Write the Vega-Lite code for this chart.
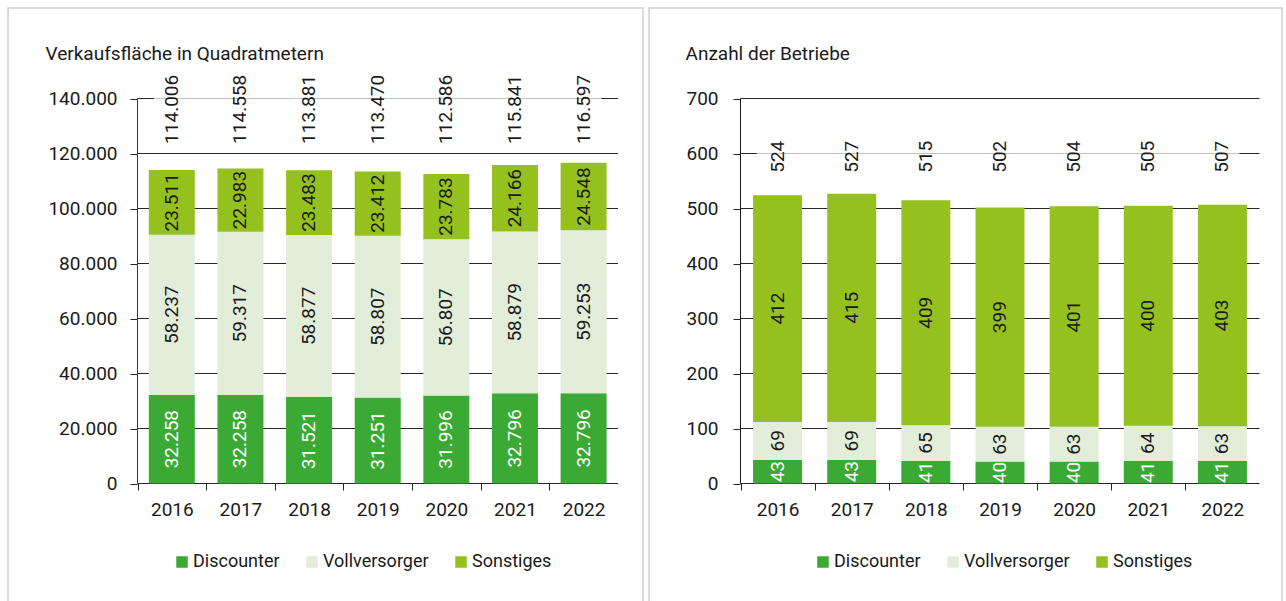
{
  "$schema": "https://vega.github.io/schema/vega-lite/v6.json",
  "padding": {"left": 7, "top": 7, "right": 0, "bottom": 0},
  "background": "white",
  "bounds": "flush",
  "spacing": 6,
  "config": {
    "font": "Roboto, sans-serif",
    "locale": {"number": {"decimal": ",", "thousands": ".", "grouping": [3], "currency": ["", " €"]}},
    "view": {"stroke": "#d0d0d0", "strokeWidth": 1.5},
    "axis": {"labelFontSize": 19, "labelColor": "#1a1a1a", "titleFontSize": 19, "titleColor": "#1a1a1a", "titleFontWeight": "normal", "grid": false, "domain": false, "tickColor": "#262626", "labelFlush": false, "labelOverlap": false},
    "text": {"fontSize": 19, "fill": "#1a1a1a"}
  },
  "resolve": {"scale": {"color": "independent"}},
  "datasets": {
    "areaSeg": [
      {"year": 2016, "cat": "Discounter", "k": 1, "v": 32258},
      {"year": 2016, "cat": "Vollversorger", "k": 2, "v": 58237},
      {"year": 2016, "cat": "Sonstiges", "k": 3, "v": 23511},
      {"year": 2017, "cat": "Discounter", "k": 1, "v": 32258},
      {"year": 2017, "cat": "Vollversorger", "k": 2, "v": 59317},
      {"year": 2017, "cat": "Sonstiges", "k": 3, "v": 22983},
      {"year": 2018, "cat": "Discounter", "k": 1, "v": 31521},
      {"year": 2018, "cat": "Vollversorger", "k": 2, "v": 58877},
      {"year": 2018, "cat": "Sonstiges", "k": 3, "v": 23483},
      {"year": 2019, "cat": "Discounter", "k": 1, "v": 31251},
      {"year": 2019, "cat": "Vollversorger", "k": 2, "v": 58807},
      {"year": 2019, "cat": "Sonstiges", "k": 3, "v": 23412},
      {"year": 2020, "cat": "Discounter", "k": 1, "v": 31996},
      {"year": 2020, "cat": "Vollversorger", "k": 2, "v": 56807},
      {"year": 2020, "cat": "Sonstiges", "k": 3, "v": 23783},
      {"year": 2021, "cat": "Discounter", "k": 1, "v": 32796},
      {"year": 2021, "cat": "Vollversorger", "k": 2, "v": 58879},
      {"year": 2021, "cat": "Sonstiges", "k": 3, "v": 24166},
      {"year": 2022, "cat": "Discounter", "k": 1, "v": 32796},
      {"year": 2022, "cat": "Vollversorger", "k": 2, "v": 59253},
      {"year": 2022, "cat": "Sonstiges", "k": 3, "v": 24548}
    ],
    "areaTot": [
      {"year": 2016, "t": 114006},
      {"year": 2017, "t": 114558},
      {"year": 2018, "t": 113881},
      {"year": 2019, "t": 113470},
      {"year": 2020, "t": 112586},
      {"year": 2021, "t": 115841},
      {"year": 2022, "t": 116597}
    ],
    "areaGrid": [
      {"g": 0}, {"g": 20000}, {"g": 40000}, {"g": 60000}, {"g": 80000}, {"g": 100000}, {"g": 120000}, {"g": 140000}
    ],
    "cntSeg": [
      {"year": 2016, "cat": "Discounter", "k": 1, "v": 43},
      {"year": 2016, "cat": "Vollversorger", "k": 2, "v": 69},
      {"year": 2016, "cat": "Sonstiges", "k": 3, "v": 412},
      {"year": 2017, "cat": "Discounter", "k": 1, "v": 43},
      {"year": 2017, "cat": "Vollversorger", "k": 2, "v": 69},
      {"year": 2017, "cat": "Sonstiges", "k": 3, "v": 415},
      {"year": 2018, "cat": "Discounter", "k": 1, "v": 41},
      {"year": 2018, "cat": "Vollversorger", "k": 2, "v": 65},
      {"year": 2018, "cat": "Sonstiges", "k": 3, "v": 409},
      {"year": 2019, "cat": "Discounter", "k": 1, "v": 40},
      {"year": 2019, "cat": "Vollversorger", "k": 2, "v": 63},
      {"year": 2019, "cat": "Sonstiges", "k": 3, "v": 399},
      {"year": 2020, "cat": "Discounter", "k": 1, "v": 40},
      {"year": 2020, "cat": "Vollversorger", "k": 2, "v": 63},
      {"year": 2020, "cat": "Sonstiges", "k": 3, "v": 401},
      {"year": 2021, "cat": "Discounter", "k": 1, "v": 41},
      {"year": 2021, "cat": "Vollversorger", "k": 2, "v": 64},
      {"year": 2021, "cat": "Sonstiges", "k": 3, "v": 400},
      {"year": 2022, "cat": "Discounter", "k": 1, "v": 41},
      {"year": 2022, "cat": "Vollversorger", "k": 2, "v": 63},
      {"year": 2022, "cat": "Sonstiges", "k": 3, "v": 403}
    ],
    "cntTot": [
      {"year": 2016, "t": 524},
      {"year": 2017, "t": 527},
      {"year": 2018, "t": 515},
      {"year": 2019, "t": 502},
      {"year": 2020, "t": 504},
      {"year": 2021, "t": 505},
      {"year": 2022, "t": 507}
    ],
    "cntGrid": [
      {"g": 0}, {"g": 100}, {"g": 200}, {"g": 300}, {"g": 400}, {"g": 500}, {"g": 600}, {"g": 700}
    ],
    "one": [{}]
  },
  "hconcat": [
    {
      "width": 635,
      "height": 595,
      "resolve": {"axis": {"x": "independent", "y": "independent"}},
      "layer": [
        {
          "data": {"name": "areaGrid"},
          "mark": {"type": "rule", "color": "#262626", "strokeWidth": 1},
          "encoding": {
            "x": {"datum": 2015.5, "type": "quantitative", "scale": {"domain": [2013.6131, 2022.8656], "nice": false, "zero": false, "padding": 0},
                  "axis": {"orient": "bottom", "values": [2016, 2017, 2018, 2019, 2020, 2021, 2022, 2023], "format": "d", "labelExpr": "datum.value > 2022 ? '' : datum.label", "ticks": true, "tickSize": 7, "tickOffset": -34.31, "labelOffset": 34.31, "labelPadding": 10, "domain": false, "offset": -120, "title": null}},
            "x2": {"datum": 2022.5},
            "y": {"field": "g", "type": "quantitative", "scale": {"domain": [-43454.5, 172909.1], "nice": false, "zero": false, "padding": 0},
                  "axis": {"orient": "left", "values": [0, 20000, 40000, 60000, 80000, 100000, 120000, 140000], "format": ",d", "labels": true, "ticks": true, "tickSize": 7, "labelPadding": 13, "domain": false, "offset": -129,
                           "title": "Verkaufsfläche in Quadratmetern", "titleAngle": 0, "titleAlign": "left", "titleBaseline": "alphabetic", "titleX": -92, "titleY": 51}}
          }
        },
        {
          "data": {"name": "areaSeg"},
          "mark": {"type": "bar", "orient": "vertical", "size": 46},
          "encoding": {
            "x": {"field": "year", "type": "quantitative", "scale": {"domain": [2013.6131, 2022.8656], "nice": false, "zero": false, "padding": 0}, "axis": null},
            "y": {"field": "v", "type": "quantitative", "stack": "zero", "scale": {"domain": [-43454.5, 172909.1], "nice": false, "zero": false, "padding": 0}, "axis": null},
            "color": {"field": "cat", "type": "nominal", "scale": {"domain": ["Discounter", "Vollversorger", "Sonstiges"], "range": ["#3BAA35", "#E2EEDA", "#95C11F"]},
                      "legend": {"orient": "none", "legendX": 165, "legendY": 545, "direction": "horizontal", "title": null, "symbolType": "square", "symbolSize": 132, "symbolStrokeWidth": 0, "labelFontSize": 18, "labelColor": "#1a1a1a", "labelOffset": 2, "columnPadding": 23, "padding": 0, "labelLimit": 300}},
            "order": {"field": "k", "type": "quantitative"}
          }
        },
        {
          "data": {"name": "one"},
          "mark": {"type": "rect", "fill": "white", "opacity": 0.72},
          "encoding": {
            "x": {"datum": 2015.74, "type": "quantitative", "scale": {"domain": [2013.6131, 2022.8656], "nice": false, "zero": false, "padding": 0}, "axis": null},
            "x2": {"datum": 2022.26},
            "y": {"datum": 124000, "type": "quantitative", "scale": {"domain": [-43454.5, 172909.1], "nice": false, "zero": false, "padding": 0}, "axis": null},
            "y2": {"datum": 148000}
          }
        },
        {
          "data": {"name": "areaSeg"},
          "mark": {"type": "text", "angle": -90, "align": "center", "baseline": "middle", "fontSize": 19},
          "encoding": {
            "x": {"field": "year", "type": "quantitative", "scale": {"domain": [2013.6131, 2022.8656], "nice": false, "zero": false, "padding": 0}, "axis": null},
            "y": {"field": "v", "type": "quantitative", "stack": "zero", "bandPosition": 0.5, "scale": {"domain": [-43454.5, 172909.1], "nice": false, "zero": false, "padding": 0}, "axis": null},
            "detail": {"field": "cat", "type": "nominal"},
            "order": {"field": "k", "type": "quantitative"},
            "text": {"field": "v", "type": "quantitative", "format": ",d"},
            "color": {"condition": {"test": "datum.cat === 'Discounter'", "value": "#ffffff"}, "value": "#1a1a1a"}
          }
        },
        {
          "data": {"name": "areaTot"},
          "mark": {"type": "text", "angle": -90, "align": "left", "baseline": "middle", "fontSize": 19, "color": "#1a1a1a"},
          "encoding": {
            "x": {"field": "year", "type": "quantitative", "scale": {"domain": [2013.6131, 2022.8656], "nice": false, "zero": false, "padding": 0}, "axis": null},
            "y": {"datum": 123500, "type": "quantitative", "scale": {"domain": [-43454.5, 172909.1], "nice": false, "zero": false, "padding": 0}, "axis": null},
            "text": {"field": "t", "type": "quantitative", "format": ",d"}
          }
        },
        {
          "data": {"name": "one"},
          "mark": {"type": "rule", "color": "#3a3a3a", "strokeWidth": 1},
          "encoding": {
            "x": {"datum": 2015.5, "type": "quantitative", "scale": {"domain": [2013.6131, 2022.8656], "nice": false, "zero": false, "padding": 0}, "axis": null},
            "y": {"datum": 0, "type": "quantitative", "scale": {"domain": [-43454.5, 172909.1], "nice": false, "zero": false, "padding": 0}, "axis": null},
            "y2": {"datum": 140000}
          }
        }
      ]
    },
    {
      "width": 633,
      "height": 595,
      "resolve": {"axis": {"x": "independent", "y": "independent"}},
      "layer": [
        {
          "data": {"name": "cntGrid"},
          "mark": {"type": "rule", "color": "#262626", "strokeWidth": 1},
          "encoding": {
            "x": {"datum": 2015.5, "type": "quantitative", "scale": {"domain": [2014.2659, 2022.8035], "nice": false, "zero": false, "padding": 0},
                  "axis": {"orient": "bottom", "values": [2016, 2017, 2018, 2019, 2020, 2021, 2022, 2023], "format": "d", "labelExpr": "datum.value > 2022 ? '' : datum.label", "ticks": true, "tickSize": 7, "tickOffset": -37.07, "labelOffset": 37.07, "labelPadding": 10, "domain": false, "offset": -120, "title": null}},
            "x2": {"datum": 2022.5},
            "y": {"field": "g", "type": "quantitative", "scale": {"domain": [-217.27, 864.55], "nice": false, "zero": false, "padding": 0},
                  "axis": {"orient": "left", "values": [0, 100, 200, 300, 400, 500, 600, 700], "format": ",d", "labels": true, "ticks": true, "tickSize": 7, "labelPadding": 15, "domain": false, "offset": -91,
                           "title": "Anzahl der Betriebe", "titleAngle": 0, "titleAlign": "left", "titleBaseline": "alphabetic", "titleX": -55, "titleY": 51}}
          }
        },
        {
          "data": {"name": "cntSeg"},
          "mark": {"type": "bar", "orient": "vertical", "size": 49},
          "encoding": {
            "x": {"field": "year", "type": "quantitative", "scale": {"domain": [2014.2659, 2022.8035], "nice": false, "zero": false, "padding": 0}, "axis": null},
            "y": {"field": "v", "type": "quantitative", "stack": "zero", "scale": {"domain": [-217.27, 864.55], "nice": false, "zero": false, "padding": 0}, "axis": null},
            "color": {"field": "cat", "type": "nominal", "scale": {"domain": ["Discounter", "Vollversorger", "Sonstiges"], "range": ["#3BAA35", "#E2EEDA", "#95C11F"]},
                      "legend": {"orient": "none", "legendX": 165, "legendY": 545, "direction": "horizontal", "title": null, "symbolType": "square", "symbolSize": 132, "symbolStrokeWidth": 0, "labelFontSize": 18, "labelColor": "#1a1a1a", "labelOffset": 2, "columnPadding": 23, "padding": 0, "labelLimit": 300}},
            "order": {"field": "k", "type": "quantitative"}
          }
        },
        {
          "data": {"name": "one"},
          "mark": {"type": "rect", "fill": "white", "opacity": 0.72},
          "encoding": {
            "x": {"datum": 2015.72, "type": "quantitative", "scale": {"domain": [2014.2659, 2022.8035], "nice": false, "zero": false, "padding": 0}, "axis": null},
            "x2": {"datum": 2022.23},
            "y": {"datum": 540, "type": "quantitative", "scale": {"domain": [-217.27, 864.55], "nice": false, "zero": false, "padding": 0}, "axis": null},
            "y2": {"datum": 660}
          }
        },
        {
          "data": {"name": "cntSeg"},
          "mark": {"type": "text", "angle": -90, "align": "center", "baseline": "middle", "fontSize": 19},
          "encoding": {
            "x": {"field": "year", "type": "quantitative", "scale": {"domain": [2014.2659, 2022.8035], "nice": false, "zero": false, "padding": 0}, "axis": null},
            "y": {"field": "v", "type": "quantitative", "stack": "zero", "bandPosition": 0.5, "scale": {"domain": [-217.27, 864.55], "nice": false, "zero": false, "padding": 0}, "axis": null},
            "detail": {"field": "cat", "type": "nominal"},
            "order": {"field": "k", "type": "quantitative"},
            "text": {"field": "v", "type": "quantitative", "format": ",d"},
            "color": {"condition": {"test": "datum.cat === 'Discounter'", "value": "#ffffff"}, "value": "#1a1a1a"}
          }
        },
        {
          "data": {"name": "cntTot"},
          "mark": {"type": "text", "angle": -90, "align": "left", "baseline": "middle", "fontSize": 19, "color": "#1a1a1a"},
          "encoding": {
            "x": {"field": "year", "type": "quantitative", "scale": {"domain": [2014.2659, 2022.8035], "nice": false, "zero": false, "padding": 0}, "axis": null},
            "y": {"datum": 565, "type": "quantitative", "scale": {"domain": [-217.27, 864.55], "nice": false, "zero": false, "padding": 0}, "axis": null},
            "text": {"field": "t", "type": "quantitative", "format": ",d"}
          }
        },
        {
          "data": {"name": "one"},
          "mark": {"type": "rule", "color": "#1a1a1a", "strokeWidth": 1},
          "encoding": {
            "x": {"datum": 2015.5, "type": "quantitative", "scale": {"domain": [2014.2659, 2022.8035], "nice": false, "zero": false, "padding": 0}, "axis": null},
            "y": {"datum": 0, "type": "quantitative", "scale": {"domain": [-217.27, 864.55], "nice": false, "zero": false, "padding": 0}, "axis": null},
            "y2": {"datum": 700}
          }
        }
      ]
    }
  ]
}
